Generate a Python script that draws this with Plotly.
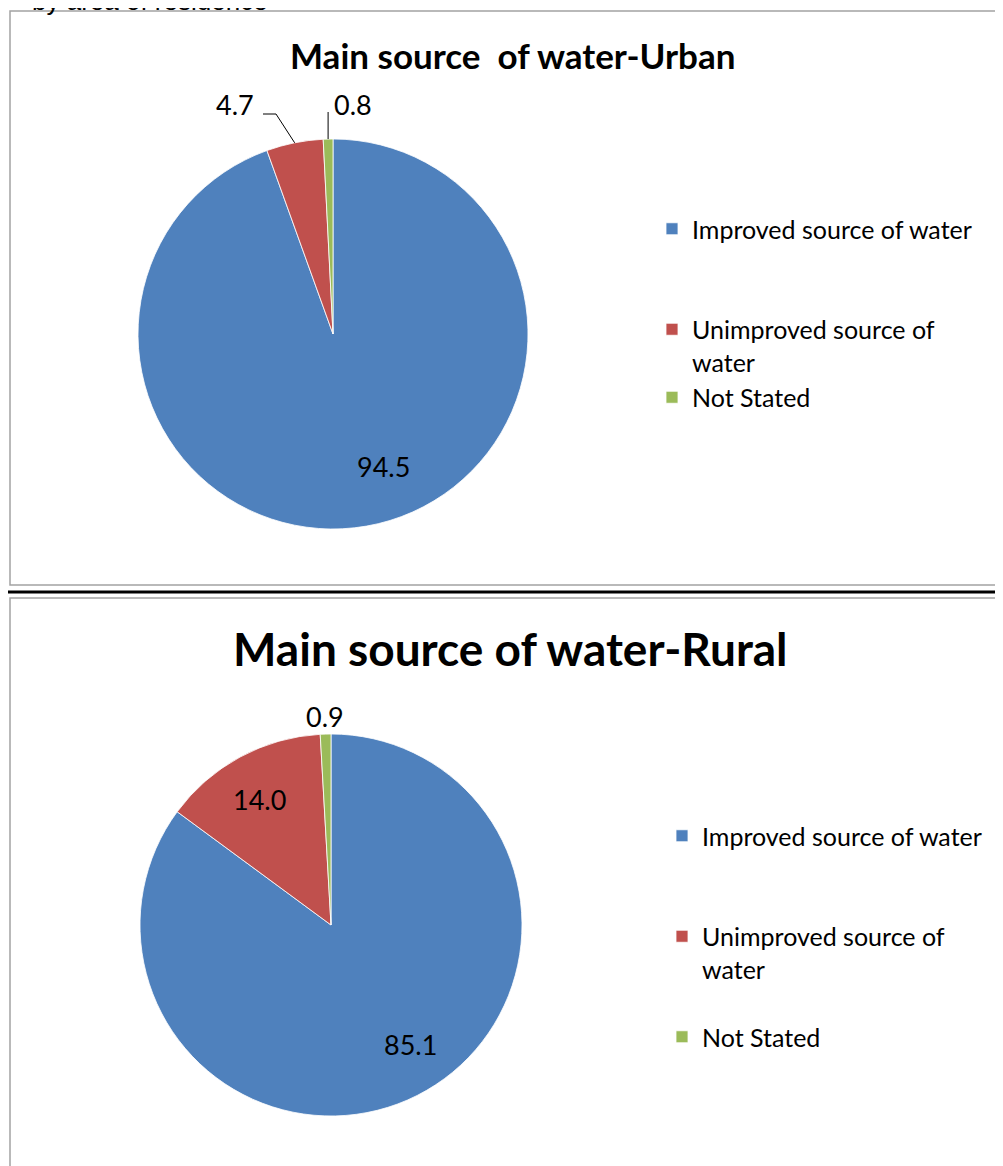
"""Pie charts: main source of water by area of residence."""

import math

import plotly.graph_objects as go

W, H = 1003, 1166
# the page body has an 8px margin; page coordinates are shifted by it
_OFFSET = 8

# ── Data ──────────────────────────────────────────────────────────────────────
categories = ["Improved source of water", "Unimproved source of water", "Not Stated"]
urban_values = [94.5, 4.7, 0.8]
rural_values = [85.1, 14.0, 0.9]

# legend text (line breaks / blank lines mimic the Excel legend spacing)
urban_legend_labels = [
    "Improved source of water<br> <br> ",
    "Unimproved source of<br>water",
    "Not Stated",
]
rural_legend_labels = [
    "Improved source of water<br> <br> ",
    "Unimproved source of<br>water<br> ",
    "Not Stated",
]

_COLORS = ["#4F81BD", "#C0504D", "#9BBB59"]
_FONT = "Lato, Calibri, Arial, sans-serif"
_BORDER = "#a3a3a3"

# pie geometry in page pixels: centre x, centre y, radius
URBAN_PIE = (333, 334, 195)
RURAL_PIE = (331, 925, 191)


def px(x):
    return (x - _OFFSET) / W


def py(y):
    return 1 - (y - _OFFSET) / H


def _domain(pie):
    cx, cy, r = pie
    return {"x": [px(cx - r), px(cx + r)], "y": [py(cy + r), py(cy - r)]}


def _edge_point(pie, values, idx):
    """Pixel position on the rim at the middle of slice idx (clockwise from 12)."""
    cx, cy, r = pie
    total = sum(values)
    start = sum(values[:idx])
    frac = (start + values[idx] / 2) / total
    ang = 2 * math.pi * frac
    return cx + r * math.sin(ang), cy - r * math.cos(ang)


def _label(text, x, y, size=27, bold=False):
    return {
        "text": f"<b>{text}</b>" if bold else text,
        "x": px(x),
        "y": py(y),
        "xref": "paper",
        "yref": "paper",
        "xanchor": "center",
        "yanchor": "middle",
        "showarrow": False,
        "font": {"family": _FONT, "size": size, "color": "#000000"},
    }


fig = go.Figure()

for values, legend_labels, pie, legend_id, group in [
    (urban_values, urban_legend_labels, URBAN_PIE, "legend", "urban"),
    (rural_values, rural_legend_labels, RURAL_PIE, "legend2", "rural"),
]:
    fig.add_trace(
        go.Pie(
            labels=legend_labels,
            values=values,
            customdata=categories,
            sort=False,
            direction="clockwise",
            rotation=0,
            textinfo="none",
            marker={"colors": _COLORS, "line": {"color": "#ffffff", "width": 0.8}},
            domain=_domain(pie),
            legend=legend_id,
            legendgroup=group,
            hovertemplate="%{customdata}: %{value:.1f}<extra></extra>",
        )
    )

# ── Titles and value labels ───────────────────────────────────────────────────
annotations = [
    # caption cut off at the top of the page
    {
        "text": "by area of residence",
        "x": px(30),
        "y": py(1),
        "xref": "paper",
        "yref": "paper",
        "xanchor": "left",
        "yanchor": "middle",
        "showarrow": False,
        "font": {"family": "Liberation Sans, Arial", "size": 26, "color": "#000000"},
    },
    _label("Main source  of water-Urban", 512, 55, size=35, bold=True),
    _label("Main source of water-Rural", 510, 648, size=46, bold=True),
    _label(f"{urban_values[0]:.1f}", 383, 467),
    _label(f"{urban_values[1]:.1f}", 235, 105),
    _label(f"{urban_values[2]:.1f}", 353, 105),
    _label(f"{rural_values[0]:.1f}", 410, 1044),
    _label(f"{rural_values[1]:.1f}", 259, 799),
    _label(f"{rural_values[2]:.1f}", 325, 716),
]

# leader lines for the small urban slices
ex1, ey1 = _edge_point(URBAN_PIE, urban_values, 1)
ex2, ey2 = _edge_point(URBAN_PIE, urban_values, 2)
shapes = [
    {
        "type": "path",
        "xref": "paper",
        "yref": "paper",
        "path": f"M {px(263)},{py(114)} L {px(276)},{py(114)} L {px(ex1)},{py(ey1)}",
        "line": {"color": "#000000", "width": 1},
    },
    {
        "type": "line",
        "xref": "paper",
        "yref": "paper",
        "x0": px(ex2),
        "y0": py(112),
        "x1": px(ex2),
        "y1": py(ey2),
        "line": {"color": "#000000", "width": 1},
    },
    # chart frames and separator
    {
        "type": "rect",
        "xref": "paper",
        "yref": "paper",
        "x0": px(10),
        "y0": py(585),
        "x1": px(1001),
        "y1": py(11),
        "line": {"color": _BORDER, "width": 1.5},
        "layer": "below",
    },
    {
        "type": "line",
        "xref": "paper",
        "yref": "paper",
        "x0": px(3),
        "y0": py(592),
        "x1": px(1020),
        "y1": py(592),
        "line": {"color": "#000000", "width": 3},
    },
    {
        "type": "rect",
        "xref": "paper",
        "yref": "paper",
        "x0": px(10),
        "y0": py(1190),
        "x1": px(1020),
        "y1": py(598),
        "line": {"color": _BORDER, "width": 1.5},
        "layer": "below",
    },
]

_legend_common = {
    "xanchor": "left",
    "yanchor": "top",
    "valign": "top",
    "bgcolor": "rgba(0,0,0,0)",
    "borderwidth": 0,
    "font": {"family": _FONT, "size": 25, "color": "#000000"},
}

fig.update_layout(
    width=W,
    height=H,
    margin={"l": 0, "r": 0, "t": 0, "b": 0},
    paper_bgcolor="#ffffff",
    plot_bgcolor="#ffffff",
    showlegend=True,
    legend={**_legend_common, "x": px(652), "y": py(206)},
    legend2={**_legend_common, "x": px(662), "y": py(813)},
    annotations=annotations,
    shapes=shapes,
)

fig.write_html("out.html")
